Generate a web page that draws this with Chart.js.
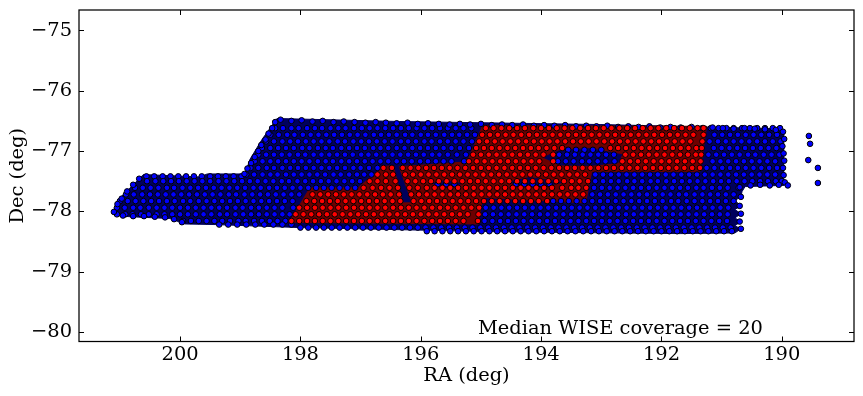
<!DOCTYPE html>
<html>
<head>
<meta charset="utf-8">
<style>
  html, body { margin: 0; padding: 0; background: #fff; }
  #wrap { width: 863px; height: 396px; }
</style>
<script src="https://cdn.jsdelivr.net/npm/chart.js@4"></script>
</head>
<body>
<div id="wrap"><canvas id="cov" width="863" height="396"></canvas></div>
<script>
const xTicks = [200, 198, 196, 194, 192, 190];
const yTicks = [-75, -76, -77, -78, -79, -80];
const note = "Median WISE coverage = 20";

//..footprint outlines
const blueShapeRa = [201.11,201.03,200.86,200.66,200.61,199.67,199.55,198.92,198.84,198.64,198.39,196.35,193.02,190.03,189.97,189.97,190.61,190.66,190.68,190.78,190.68,190.78,190.68,190.78,190.68,190.78,190.68,190.78,191.69,194.68,198.01,199.42,199.92,200.17,200.83,201.08];
const blueShapeDec = [-78.01,-77.81,-77.64,-77.44,-77.39,-77.43,-77.38,-77.38,-77.14,-76.81,-76.46,-76.51,-76.56,-76.63,-76.69,-77.57,-77.59,-77.67,-77.76,-77.82,-77.91,-77.97,-78.04,-78.11,-78.17,-78.24,-78.29,-78.36,-78.37,-78.34,-78.27,-78.22,-78.21,-78.12,-78.09,-78.07];
const redShapeRa = [198.19,197.84,197.04,196.63,196.46,196.30,196.14,196.36,195.23,194.97,191.25,191.36,193.16,193.26,194.97,195.05];
const redShapeDec = [-78.19,-77.61,-77.61,-77.26,-77.24,-77.86,-77.86,-77.26,-77.18,-76.58,-76.59,-77.34,-77.34,-77.86,-77.77,-78.22];
const holeARa = [193.97,193.69,193.19,192.66,192.72,193.19,193.69];
const holeADec = [-77.11,-76.99,-76.96,-77.06,-77.19,-77.24,-77.23];
const holeBRa = [195.80,195.60,195.32,195.60];
const holeBDec = [-77.54,-77.49,-77.54,-77.61];
const holeCRa = [194.57,194.19,193.64,194.10];
const holeCDec = [-77.52,-77.44,-77.52,-77.61];

//..sources along the top edge
const topEdgeRa = [198.33,198.15,197.98,197.80,197.63,197.45,197.28,197.10,196.92,196.75,196.58,196.40,196.22,196.05,195.88,195.70,195.52,195.35,195.18,195.00,194.82,194.65,194.48,194.30,194.12,193.95,193.78,193.60,193.42,193.25,193.08,192.90,192.72,192.55,192.38,192.20,192.02,191.85,191.68,191.50,191.32,191.15,190.98,190.80,190.62,190.45,190.28,190.10];
const topEdgeDec = [-76.48,-76.50,-76.49,-76.51,-76.50,-76.52,-76.51,-76.52,-76.53,-76.52,-76.53,-76.54,-76.53,-76.55,-76.54,-76.55,-76.56,-76.55,-76.56,-76.55,-76.57,-76.56,-76.57,-76.56,-76.58,-76.57,-76.58,-76.57,-76.59,-76.58,-76.59,-76.58,-76.60,-76.59,-76.60,-76.59,-76.61,-76.60,-76.61,-76.60,-76.62,-76.61,-76.62,-76.63,-76.62,-76.63,-76.64,-76.65];
//..sources along the slanted, right, finger and lower left edges
const sideEdgeRa = [201.10,201.04,200.97,200.88,200.78,200.68,198.42,198.47,198.53,198.58,198.65,198.70,198.76,198.82,198.88,198.93,189.98,189.96,189.99,189.97,189.96,189.98,189.97,189.95,189.90,190.05,190.20,190.36,190.52,190.70,190.68,190.70,190.68,190.70,190.68,200.95,200.78,200.60,200.42,200.25,200.10,199.97];
const sideEdgeDec = [-78.01,-77.88,-77.79,-77.67,-77.56,-77.46,-76.52,-76.62,-76.71,-76.81,-76.90,-77.00,-77.10,-77.20,-77.29,-77.38,-76.68,-76.80,-76.92,-77.04,-77.16,-77.28,-77.40,-77.52,-77.57,-77.56,-77.57,-77.56,-77.57,-77.60,-77.76,-77.91,-78.04,-78.17,-78.29,-78.07,-78.08,-78.08,-78.09,-78.10,-78.13,-78.18];
const strayRa = [189.55,189.53,189.56,189.40,189.40];
const strayDec = [-76.75,-76.88,-77.15,-77.28,-77.53];

//..sources in rows, blue
const blueRowDec = [-76.62,-76.73,-76.84,-76.95,-76.98,-77.06,-77.17,-77.28,-77.39,-77.42,-77.50,-77.55,-77.61,-77.72,-77.83,-77.94,-78.05,-78.16,-78.22,-78.27,-78.33];
const blueRowRa = [
  [198.42,198.29,198.15,198.03,197.89,197.76,197.64,197.50,197.37,197.25,197.11,196.98,196.85,196.72,196.59,196.46,196.33,196.20,196.07,195.94,195.81,195.68,195.55,195.42,195.29,195.16,191.18,191.05,190.92,190.80,190.66,190.53,190.41,190.28,190.15,190.03],
  [198.50,198.36,198.22,198.10,197.96,197.83,197.70,197.57,197.44,197.31,197.18,197.05,196.92,196.78,196.66,196.53,196.40,196.26,196.14,196.00,195.88,195.75,195.61,195.48,195.36,195.23,195.10,191.12,190.99,190.86,190.73,190.60,190.47,190.34,190.21,190.08],
  [198.57,198.44,198.30,198.17,198.04,197.91,197.78,197.65,197.52,197.38,197.26,197.12,196.99,196.86,196.73,196.60,196.47,196.33,196.21,196.08,195.94,195.82,195.68,195.55,195.42,195.29,195.15,191.20,191.06,190.93,190.80,190.67,190.54,190.41,190.28,190.15,190.02],
  [198.64,198.50,198.37,198.24,198.11,197.97,197.85,197.71,197.58,197.46,197.32,197.19,197.06,196.93,196.79,196.67,196.54,196.40,196.27,196.14,196.01,195.88,195.75,195.62,195.49,195.35,195.20,191.13,191.00,190.87,190.74,190.61,190.48,190.35,190.22,190.09],
  [193.55,193.42,193.28,193.14,193.00],
  [198.70,198.57,198.44,198.31,198.18,198.04,197.92,197.78,197.65,197.52,197.39,197.26,197.13,196.99,196.87,196.74,196.60,196.47,196.34,196.21,196.08,195.95,195.81,195.69,195.55,195.40,195.25,193.70,193.57,193.44,193.31,193.18,193.05,192.92,192.79,191.22,191.09,190.96,190.83,190.70,190.56,190.44,190.30,190.17,190.04],
  [198.76,198.63,198.50,198.37,198.24,198.11,197.98,197.85,197.71,197.58,197.46,197.32,197.19,197.06,196.93,196.80,196.67,196.54,196.40,196.28,196.15,196.01,195.88,195.75,195.62,195.49,195.28,193.72,193.59,193.46,193.32,193.20,193.06,192.93,192.78,191.15,191.02,190.89,190.76,190.63,190.50,190.37,190.24,190.11],
  [198.83,198.70,198.56,198.44,198.30,198.17,198.04,197.91,197.78,197.65,197.52,197.39,197.26,197.12,197.00,196.86,196.72,191.25,191.12,190.99,190.86,190.73,190.60,190.47,190.34,190.21,190.08],
  [198.90,198.77,198.63,198.50,198.38,198.24,198.11,197.98,197.85,197.72,197.59,197.45,197.33,197.19,197.06,196.94,196.82,193.10,192.97,192.84,192.71,192.58,192.45,192.32,192.19,192.06,191.93,191.80,191.67,191.54,191.41,191.28,191.15,191.02,190.89,190.76,190.63,190.50,190.37,190.24,190.11],
  [200.56,200.43,200.29,200.16,200.03,199.90,199.77,199.64,199.50,199.37,199.24,199.11,198.98],
  [200.55,200.41,200.28,200.15,200.02,199.89,199.76,199.63,199.50,199.36,199.23,199.10,198.97,198.84,198.71,198.58,198.45,198.31,198.19,198.05,197.92,197.79,197.66,197.53,197.40,197.27,197.14,197.01,193.10,192.97,192.84,192.71,192.57,192.45,192.32,192.18,192.06,191.92,191.79,191.66,191.53,191.40,191.27,191.14,191.01,190.88,190.75,190.62,190.49,190.36,190.23,190.10,190.00],
  [195.72,195.58,195.44,194.42,194.28,194.14,194.00,193.86],
  [200.75,200.62,200.49,200.36,200.22,200.10,199.96,199.83,199.70,199.57,199.44,199.31,199.18,199.05,198.92,198.78,198.66,198.52,198.39,198.26,198.13,198.00,197.87,197.74,197.61,197.48,197.35,197.22,197.09,193.12,192.99,192.86,192.73,192.60,192.47,192.34,192.21,192.08,191.95,191.82,191.69,191.56,191.42,191.30,191.16,191.03,190.90,190.72],
  [200.90,200.77,200.63,200.50,200.37,200.24,200.11,199.98,199.85,199.72,199.59,199.46,199.33,199.19,199.07,198.93,198.80,198.67,198.54,198.41,198.28,198.15,198.02,193.15,193.02,192.89,192.76,192.63,192.50,192.37,192.24,192.11,191.98,191.85,191.71,191.59,191.45,191.32,191.19,191.06,190.93,190.80],
  [201.00,200.87,200.74,200.61,200.48,200.35,200.22,200.09,199.95,199.83,199.69,199.56,199.43,199.30,199.17,199.04,198.91,198.78,198.65,198.52,198.39,198.26,198.13,193.80,193.67,193.54,193.41,193.28,193.15,193.02,192.89,192.76,192.63,192.50,192.37,192.24,192.11,191.98,191.84,191.72,191.58,191.45,191.32,191.19,191.06,190.93,190.80],
  [201.05,200.92,200.78,200.66,200.52,200.39,200.26,200.13,200.00,199.87,199.74,199.61,199.48,199.35,199.22,199.08,198.96,198.82,198.69,198.56,198.43,198.30,198.12,194.92,194.79,194.66,194.53,194.40,194.27,194.14,194.01,193.88,193.75,193.62,193.49,193.36,193.23,193.10,192.97,192.84,192.71,192.58,192.45,192.32,192.19,192.06,191.93,191.80,191.67,191.54,191.41,191.28,191.15,191.02,190.89],
  [201.05,200.91,200.79,200.65,200.52,200.39,200.26,200.13,200.00,199.87,199.74,199.61,199.48,199.34,199.22,199.08,198.95,198.82,198.69,198.56,198.43,198.30,198.18,194.93,194.80,194.67,194.54,194.41,194.28,194.15,194.02,193.89,193.76,193.63,193.50,193.37,193.24,193.11,192.98,192.85,192.72,192.59,192.46,192.33,192.20,192.07,191.94,191.81,191.68,191.55,191.42,191.29,191.16,191.03,190.90],
  [199.95,199.82,199.69,199.56,199.43,199.30,199.17,199.03,198.91,198.77,198.64,198.51,198.38,198.25,194.94,194.81,194.68,194.55,194.42,194.29,194.16,194.03,193.90,193.77,193.64,193.51,193.38,193.25,193.12,192.99,192.86,192.73,192.60,192.47,192.34,192.21,192.08,191.95,191.82,191.69,191.56,191.43,191.30,191.17,191.04,190.91],
  [199.35,199.20,199.05,198.90,198.75,198.60,198.45,198.30,198.15],
  [198.00,197.87,197.74,197.61,197.48,197.35,197.22,197.09,196.96,196.83,196.70,196.57,196.44,196.31,196.18,196.05,195.92,195.79,195.66,195.53,195.40,195.27,195.14,195.01,194.88,194.75,194.62,194.49,194.36,194.23,194.10,193.97,193.84,193.71,193.58,193.45,193.32,193.19,193.06,192.93,192.80,192.67,192.54,192.41,192.28,192.15,192.02,191.89,191.76,191.63,191.50,191.37,191.24,191.11,190.98,190.85],
  [195.90,195.77,195.64,195.51,195.38,195.25,195.12,194.99,194.86,194.73,194.60,194.47,194.34,194.21,194.08,193.95,193.82,193.69,193.56,193.43,193.30,193.17,193.04,192.91,192.78,192.65,192.52,192.39,192.26,192.13,192.00,191.87,191.74,191.61,191.48,191.35,191.22,191.09,190.96,190.83]
];

//..sources in rows, red
const redRowDec = [-76.62,-76.73,-76.84,-76.95,-77.06,-77.17,-77.28,-77.39,-77.50,-77.61,-77.72,-77.83,-77.94,-78.05,-78.16];
const redRowRa = [
  [194.92,194.79,194.66,194.53,194.40,194.27,194.13,194.00,193.87,193.74,193.61,193.48,193.35,193.22,193.09,192.96,192.83,192.70,192.57,192.44,192.31,192.18,192.05,191.92,191.79,191.66,191.53,191.40,191.30],
  [194.98,194.85,194.72,194.59,194.46,194.33,194.20,194.07,193.94,193.81,193.68,193.55,193.42,193.29,193.16,193.03,192.90,192.77,192.64,192.51,192.38,192.25,192.12,191.99,191.86,191.73,191.60,191.47,191.30],
  [195.03,194.90,194.77,194.64,194.51,194.38,194.25,194.12,193.99,193.86,193.73,193.60,193.47,193.34,193.21,193.08,192.95,192.82,192.69,192.56,192.43,192.30,192.17,192.04,191.91,191.78,191.65,191.52,191.32],
  [195.08,194.95,194.82,194.69,194.56,194.43,194.30,194.17,194.04,193.91,193.78,193.65,192.85,192.72,192.59,192.46,192.33,192.20,192.07,191.94,191.81,191.68,191.55,191.42,191.33],
  [195.13,195.00,194.87,194.74,194.61,194.48,194.35,194.22,194.09,193.96,193.80,192.60,192.47,192.34,192.21,192.08,191.95,191.82,191.69,191.56,191.43,191.34],
  [195.20,195.07,194.94,194.81,194.68,194.55,194.42,194.29,194.16,194.03,193.80,192.65,192.52,192.39,192.26,192.13,192.00,191.87,191.74,191.61,191.48,191.35],
  [196.62,196.48,196.30,196.17,196.04,195.91,195.78,195.65,195.52,195.39,195.26,195.13,195.00,194.87,194.74,194.61,194.48,194.35,194.22,194.09,193.96,193.83,193.70,193.57,193.44,193.31,193.18,193.05,192.92,192.79,192.66,192.53,192.40,192.27,192.14,192.01,191.88,191.75,191.62,191.49,191.36],
  [196.72,196.58,196.46,196.26,196.13,196.00,195.87,195.74,195.61,195.48,195.35,195.22,195.09,194.96,194.83,194.70,194.57,194.44,194.31,194.18,194.05,193.92,193.79,193.66,193.53,193.40,193.27],
  [196.85,196.72,196.58,196.42,196.22,196.09,195.96,195.83,195.70,195.57,195.44,195.31,195.18,195.05,194.92,194.79,194.66,194.53,194.40,194.27,194.14,194.01,193.88,193.75,193.62,193.49,193.36,193.22],
  [196.95,196.80,196.66,196.52,196.38,196.19,196.05,195.90,195.77,195.64,195.51,195.38,195.25,195.12,194.99,194.86,194.73,194.60,194.47,194.34,194.21,194.08,193.95,193.82,193.65,193.50,193.38,193.25],
  [197.80,197.67,197.54,197.41,197.28,197.15,197.02,196.89,196.76,196.63,196.50,196.36,196.16,196.03,195.90,195.77,195.64,195.51,195.38,195.25,195.12,194.99,194.86,194.73,194.60,194.47,194.34,194.21,194.08,193.95,193.82,193.69,193.56,193.43,193.30],
  [197.90,197.77,197.64,197.51,197.38,197.25,197.12,196.99,196.86,196.73,196.60,196.47,196.34,196.12,195.99,195.86,195.73,195.60,195.47,195.34,195.21,195.08,194.95,194.82,194.69,194.56,194.43,194.30,194.17,194.04,193.90],
  [198.02,197.89,197.76,197.63,197.50,197.37,197.24,197.11,196.98,196.85,196.72,196.59,196.46,196.33,196.20,196.07,195.94,195.81,195.68,195.55,195.42,195.29,195.16,195.03],
  [198.08,197.95,197.82,197.69,197.56,197.43,197.30,197.17,197.04,196.91,196.78,196.65,196.52,196.39,196.26,196.13,196.00,195.87,195.74,195.61,195.48,195.35,195.22,195.04],
  [198.15,198.02,197.89,197.76,197.63,197.50,197.37,197.24,197.11,196.98,196.85,196.72,196.59,196.46,196.33,196.20,196.07,195.94,195.81,195.68,195.55,195.42,195.29,195.05]
];

const FONT = '"DejaVu Serif"';
const FONT_SIZE = 19.44;

function zipXY(xs, ys) {
    return xs.map((x, i) => ({ x: x, y: ys[i] }));
}

function rowsToPoints(decs, ras) {
    const out = [];
    decs.forEach((dec, i) => {
        ras[i].forEach(ra => out.push({ x: ra, y: dec }));
    });
    return out;
}

function shapeDataset(xs, ys, color) {
    return {
        data: zipXY(xs, ys),
        showLine: true,
        fill: 'shape',
        backgroundColor: color,
        borderColor: color,
        borderWidth: 1,
        pointRadius: 0,
        tension: 0
    };
}

const bluePoints = rowsToPoints(blueRowDec, blueRowRa)
    .concat(zipXY(topEdgeRa, topEdgeDec))
    .concat(zipXY(sideEdgeRa, sideEdgeDec))
    .concat(zipXY(strayRa, strayDec));
const redPoints = rowsToPoints(redRowDec, redRowRa);

//..matplotlib style frame, inward ticks and the note
const framePlugin = {
    id: 'frame',
    afterDraw(chart) {
        const { ctx, chartArea: a, scales: { x, y } } = chart;
        ctx.save();
        ctx.strokeStyle = '#000';
        ctx.lineWidth = 1;
        ctx.beginPath();
        xTicks.forEach(v => {
            const px = Math.round(x.getPixelForValue(v)) + 0.5;
            ctx.moveTo(px, a.top); ctx.lineTo(px, a.top + 5);
            ctx.moveTo(px, a.bottom); ctx.lineTo(px, a.bottom - 5);
        });
        yTicks.forEach(v => {
            const py = Math.round(y.getPixelForValue(v)) + 0.5;
            ctx.moveTo(a.left, py); ctx.lineTo(a.left + 5, py);
            ctx.moveTo(a.right, py); ctx.lineTo(a.right - 5, py);
        });
        ctx.stroke();
        ctx.lineWidth = 1.25;
        ctx.strokeRect(a.left, a.top, a.right - a.left, a.bottom - a.top);

        ctx.fillStyle = '#000';
        ctx.font = FONT_SIZE + 'px ' + FONT;
        ctx.textAlign = 'left';
        ctx.textBaseline = 'alphabetic';
        ctx.fillText(note, x.getPixelForValue(195.05), y.getPixelForValue(-80.04));
        ctx.restore();
    }
};

new Chart(document.getElementById('cov'), {
    type: 'scatter',
    data: {
        datasets: [
            { data: redPoints, backgroundColor: '#ff0000', borderColor: '#000', borderWidth: 1, pointRadius: 2.8 },
            { data: bluePoints, backgroundColor: '#0000ff', borderColor: '#000', borderWidth: 1, pointRadius: 2.8 },
            shapeDataset(holeARa, holeADec, '#00005c'),
            shapeDataset(holeBRa, holeBDec, '#00005c'),
            shapeDataset(holeCRa, holeCDec, '#00005c'),
            shapeDataset(redShapeRa, redShapeDec, '#6c0000'),
            shapeDataset(blueShapeRa, blueShapeDec, '#00005c')
        ]
    },
    options: {
        responsive: false,
        animation: false,
        events: [],
        layout: { autoPadding: false, padding: { top: 10, right: 9, left: 0, bottom: 0 } },
        plugins: { legend: { display: false }, tooltip: { enabled: false } },
        scales: {
            x: {
                type: 'linear',
                reverse: true,
                min: 188.80,
                max: 201.68,
                grid: { display: false, drawTicks: false },
                border: { display: false },
                afterBuildTicks(s) { s.ticks = xTicks.map(v => ({ value: v })); },
                afterFit(s) { s.height = 54.5; },
                ticks: {
                    color: '#000', padding: 2, maxRotation: 0, autoSkip: false,
                    font: { family: FONT, size: FONT_SIZE },
                    callback: v => String(v)
                },
                title: { display: true, text: 'RA (deg)', color: '#000', padding: { top: 0, bottom: 8 }, font: { family: FONT, size: FONT_SIZE } }
            },
            y: {
                type: 'linear',
                min: -80.16,
                max: -74.66,
                grid: { display: false, drawTicks: false },
                border: { display: false },
                afterBuildTicks(s) { s.ticks = yTicks.map(v => ({ value: v })); },
                afterFit(s) { s.width = 79; s.paddingTop = 0; s.paddingBottom = 0; },
                ticks: {
                    color: '#000', padding: 7, autoSkip: false,
                    //..small lineHeight stops the edge label from pushing the plot down
                    font: { family: FONT, size: FONT_SIZE, lineHeight: 0.3 },
                    callback: v => '\u2212' + Math.abs(v)
                },
                title: { display: true, text: 'Dec (deg)', color: '#000', padding: { top: 6, bottom: 0 }, font: { family: FONT, size: FONT_SIZE } }
            }
        }
    },
    plugins: [framePlugin]
});
</script>
</body>
</html>
